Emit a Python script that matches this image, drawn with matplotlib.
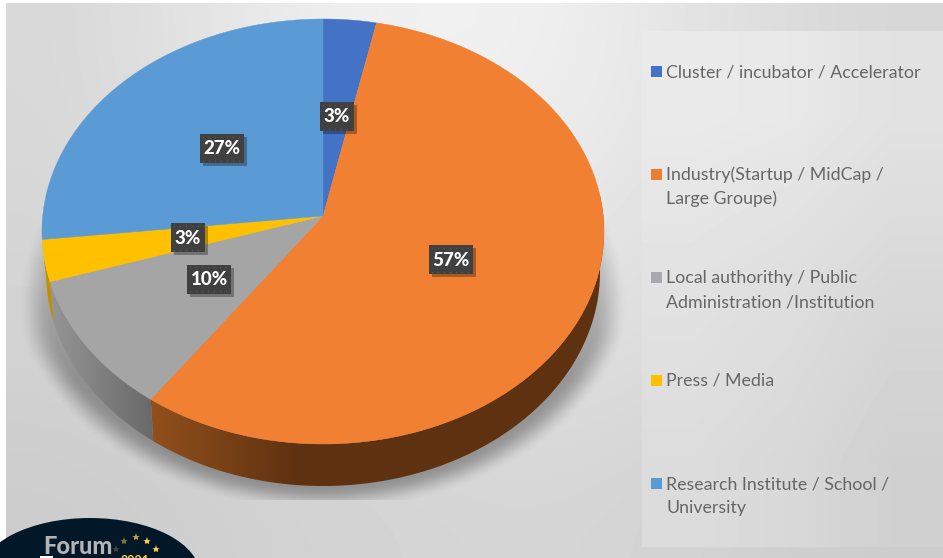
import matplotlib
matplotlib.use("Agg")
import matplotlib.pyplot as plt
from matplotlib.patches import Ellipse, Polygon, Rectangle
import numpy as np

W, H = 943, 558

# --- Data ---
categories = [
    "Cluster / incubator / Accelerator",
    "Industry(Startup / MidCap /\nLarge Groupe)",
    "Local authorithy / Public\nAdministration /Institution",
    "Press / Media",
    "Research Institute / School /\nUniversity",
]
shares = [3.05, 57.45, 10.7, 3.2, 25.6]  # slice sizes as seen in the tilted picture
pct_labels = ["3%", "57%", "10%", "3%", "27%"]
colors = ["#4472C4", "#F28033", "#A5A5A5", "#FFC000", "#5B9BD5"]
legend_colors = ["#4472C4", "#ED7D31", "#A9A9AD", "#FFC000", "#5B9BD5"]

# Pie geometry in pixels
cx, cy, rx, ry = 323, 231.5, 281, 212.5
apex_y = 216
low_cy, low_rx, low_ry = 272, 277, 214

label_pos = [(336.5, 116.5), (222, 148.5), (188, 237.5), (209, 279), (451, 259.5)]
label_idx = [0, 4, 3, 2, 1]

fig = plt.figure(figsize=(W / 100, H / 100), dpi=100, facecolor="white")
ax = fig.add_axes([0, 0, 1, 1])
plt.rcParams["font.family"] = ["Lato", "DejaVu Sans"]


def top_pt(deg):
    t = np.radians(deg)
    return np.c_[cx + rx * np.sin(t), cy - ry * np.cos(t)]


def low_pt(deg):
    t = np.radians(deg)
    return np.c_[cx + low_rx * np.sin(t), low_cy - low_ry * np.cos(t)]


def grad_poly(pts, x0, x1, c0, c1, z):
    # polygon filled with a left to right colour ramp, flat outside x0..x1
    c0, c1 = np.array(c0), np.array(c1)
    xs = np.clip((np.arange(W) + 0.5 - x0) / (x1 - x0), 0, 1)
    img = (c0 + (c1 - c0) * xs[:, None])[None, :, :] / 255
    im = ax.imshow(img, extent=[0, W, H, 0], aspect="auto", zorder=z)
    im.set_clip_path(Polygon(pts, transform=ax.transData))


# --- Background ---
bg = np.array([
    [216, 232, 242, 240, 226, 214],
    [214, 226, 232, 232, 224, 212],
    [210, 216, 222, 224, 218, 208],
    [204, 208, 212, 214, 210, 204],
])
ax.imshow(bg, cmap="gray", vmin=0, vmax=255, extent=[6, W, H, 3], aspect="auto",
          interpolation="bicubic", zorder=0)

# --- Soft shadow under the pie ---
xx, yy = np.meshgrid(np.arange(W) + 0.5, np.arange(H) + 0.5)
grow = 8 + 30 * np.clip((yy - 170) / 170, 0, 1)
e = np.sqrt(((xx - cx) / (low_rx + grow)) ** 2 + ((yy - low_cy) / (low_ry + 26)) ** 2)
a = np.clip((1 - e) / 0.11, 0, 1)
a = a * a * (3 - 2 * a)
a = a * (0.10 + 0.22 * np.clip((yy - 200) / 180, 0, 1))
a[yy > 500] = 0
a[yy < 150] = 0
shadow = np.zeros((H, W, 4))
shadow[..., 3] = a
ax.imshow(shadow, extent=[0, W, H, 0], aspect="auto", zorder=1)

# --- Pie side wall and top, angles from the shares ---
edges = np.cumsum([0] + shares) / sum(shares) * 360

# orange, grey and yellow parts of the wall
th = np.linspace(80, edges[2], 200)
grad_poly(np.r_[top_pt(th), low_pt(th)[::-1]], 150, 300, (146, 80, 28), (94, 49, 16), 2)
th = np.linspace(edges[2], edges[3], 60)
grad_poly(np.r_[top_pt(th), low_pt(th)[::-1]], 50, 155, (150, 150, 150), (104, 104, 104), 2)
th = np.linspace(edges[3], edges[4], 30)
ax.add_patch(Polygon(np.r_[top_pt(th), low_pt(th)[::-1]], fc="#BF9000", ec="none", zorder=2))

for i, c in enumerate(colors):
    th = np.linspace(edges[i], edges[i + 1], 200)
    pts = np.r_[[[cx, apex_y]], top_pt(th)]
    ax.add_patch(Polygon(pts, fc=c, ec=c, lw=0.3, zorder=3))

# --- Data labels ---
for (lx, ly), i in zip(label_pos, label_idx):
    txt = pct_labels[i]
    w = 44 if len(txt) == 3 else 34
    h = 29
    ax.add_patch(Rectangle((lx - w / 2 + 3, ly - h / 2 + 3), w, h, fc="black", alpha=0.3, ec="none", zorder=4))
    ax.add_patch(Rectangle((lx - w / 2, ly - h / 2), w, h, fc="#404040", ec="none", zorder=5))
    dx, dy = np.meshgrid(np.arange(lx - w / 2 + 3, lx + w / 2, 6), [ly - h / 2 + 2.5, ly + h / 2 - 2.5])
    ax.plot(dx.ravel(), dy.ravel(), ls="none", marker="s", ms=1, color="#565656", mew=0, zorder=6)
    ax.text(lx, ly + 0.5, txt, color="white", fontsize=13.5, fontweight="black",
            ha="center", va="center", zorder=7)

# --- Legend panel ---
panel = np.array([[234, 232, 226], [226, 222, 216], [220, 216, 208]])
ax.imshow(panel, cmap="gray", vmin=0, vmax=255, extent=[642, W, 547, 31], aspect="auto",
          interpolation="bilinear", zorder=8)

legend_y = [71, 174, 277, 380, 483]
for name, c, y in zip(categories, legend_colors, legend_y):
    ax.add_patch(Rectangle((651, y - 5.5), 11, 11, fc=c, ec="none", zorder=9))
    for k, line in enumerate(name.split("\n")):
        ax.text(666, y + 6 + 24 * k, line, color="#666666", fontsize=12.75, ha="left", va="baseline", zorder=9)

# --- Forum logo in the corner ---
ax.add_patch(Ellipse((90, 575), 220, 114, fc="#021727", ec="none", zorder=10))
ax.text(43, 554, "Forum", color="#B4B4B4", fontsize=17, fontweight="black", ha="left", va="baseline", zorder=11)
ax.text(135, 565, "2021", color="#FFCB3D", fontsize=9, fontweight="bold", ha="center", va="baseline", zorder=11)
ax.add_patch(Rectangle((40, 556), 13, 2, fc="white", ec="none", zorder=11))
star_x = [116, 124, 136, 147, 156]
star_y = [549, 541, 537, 541, 549]
star_a = [0.25, 0.5, 0.75, 1, 1]
for sx, sy, sa in zip(star_x, star_y, star_a):
    ax.plot(sx, sy, marker="*", ms=6, color="#FFCB3D", mew=0, alpha=sa, zorder=11)

ax.set_xlim(0, W)
ax.set_ylim(H, 0)
ax.axis("off")

fig.savefig("out.png", dpi=100, facecolor="white")
